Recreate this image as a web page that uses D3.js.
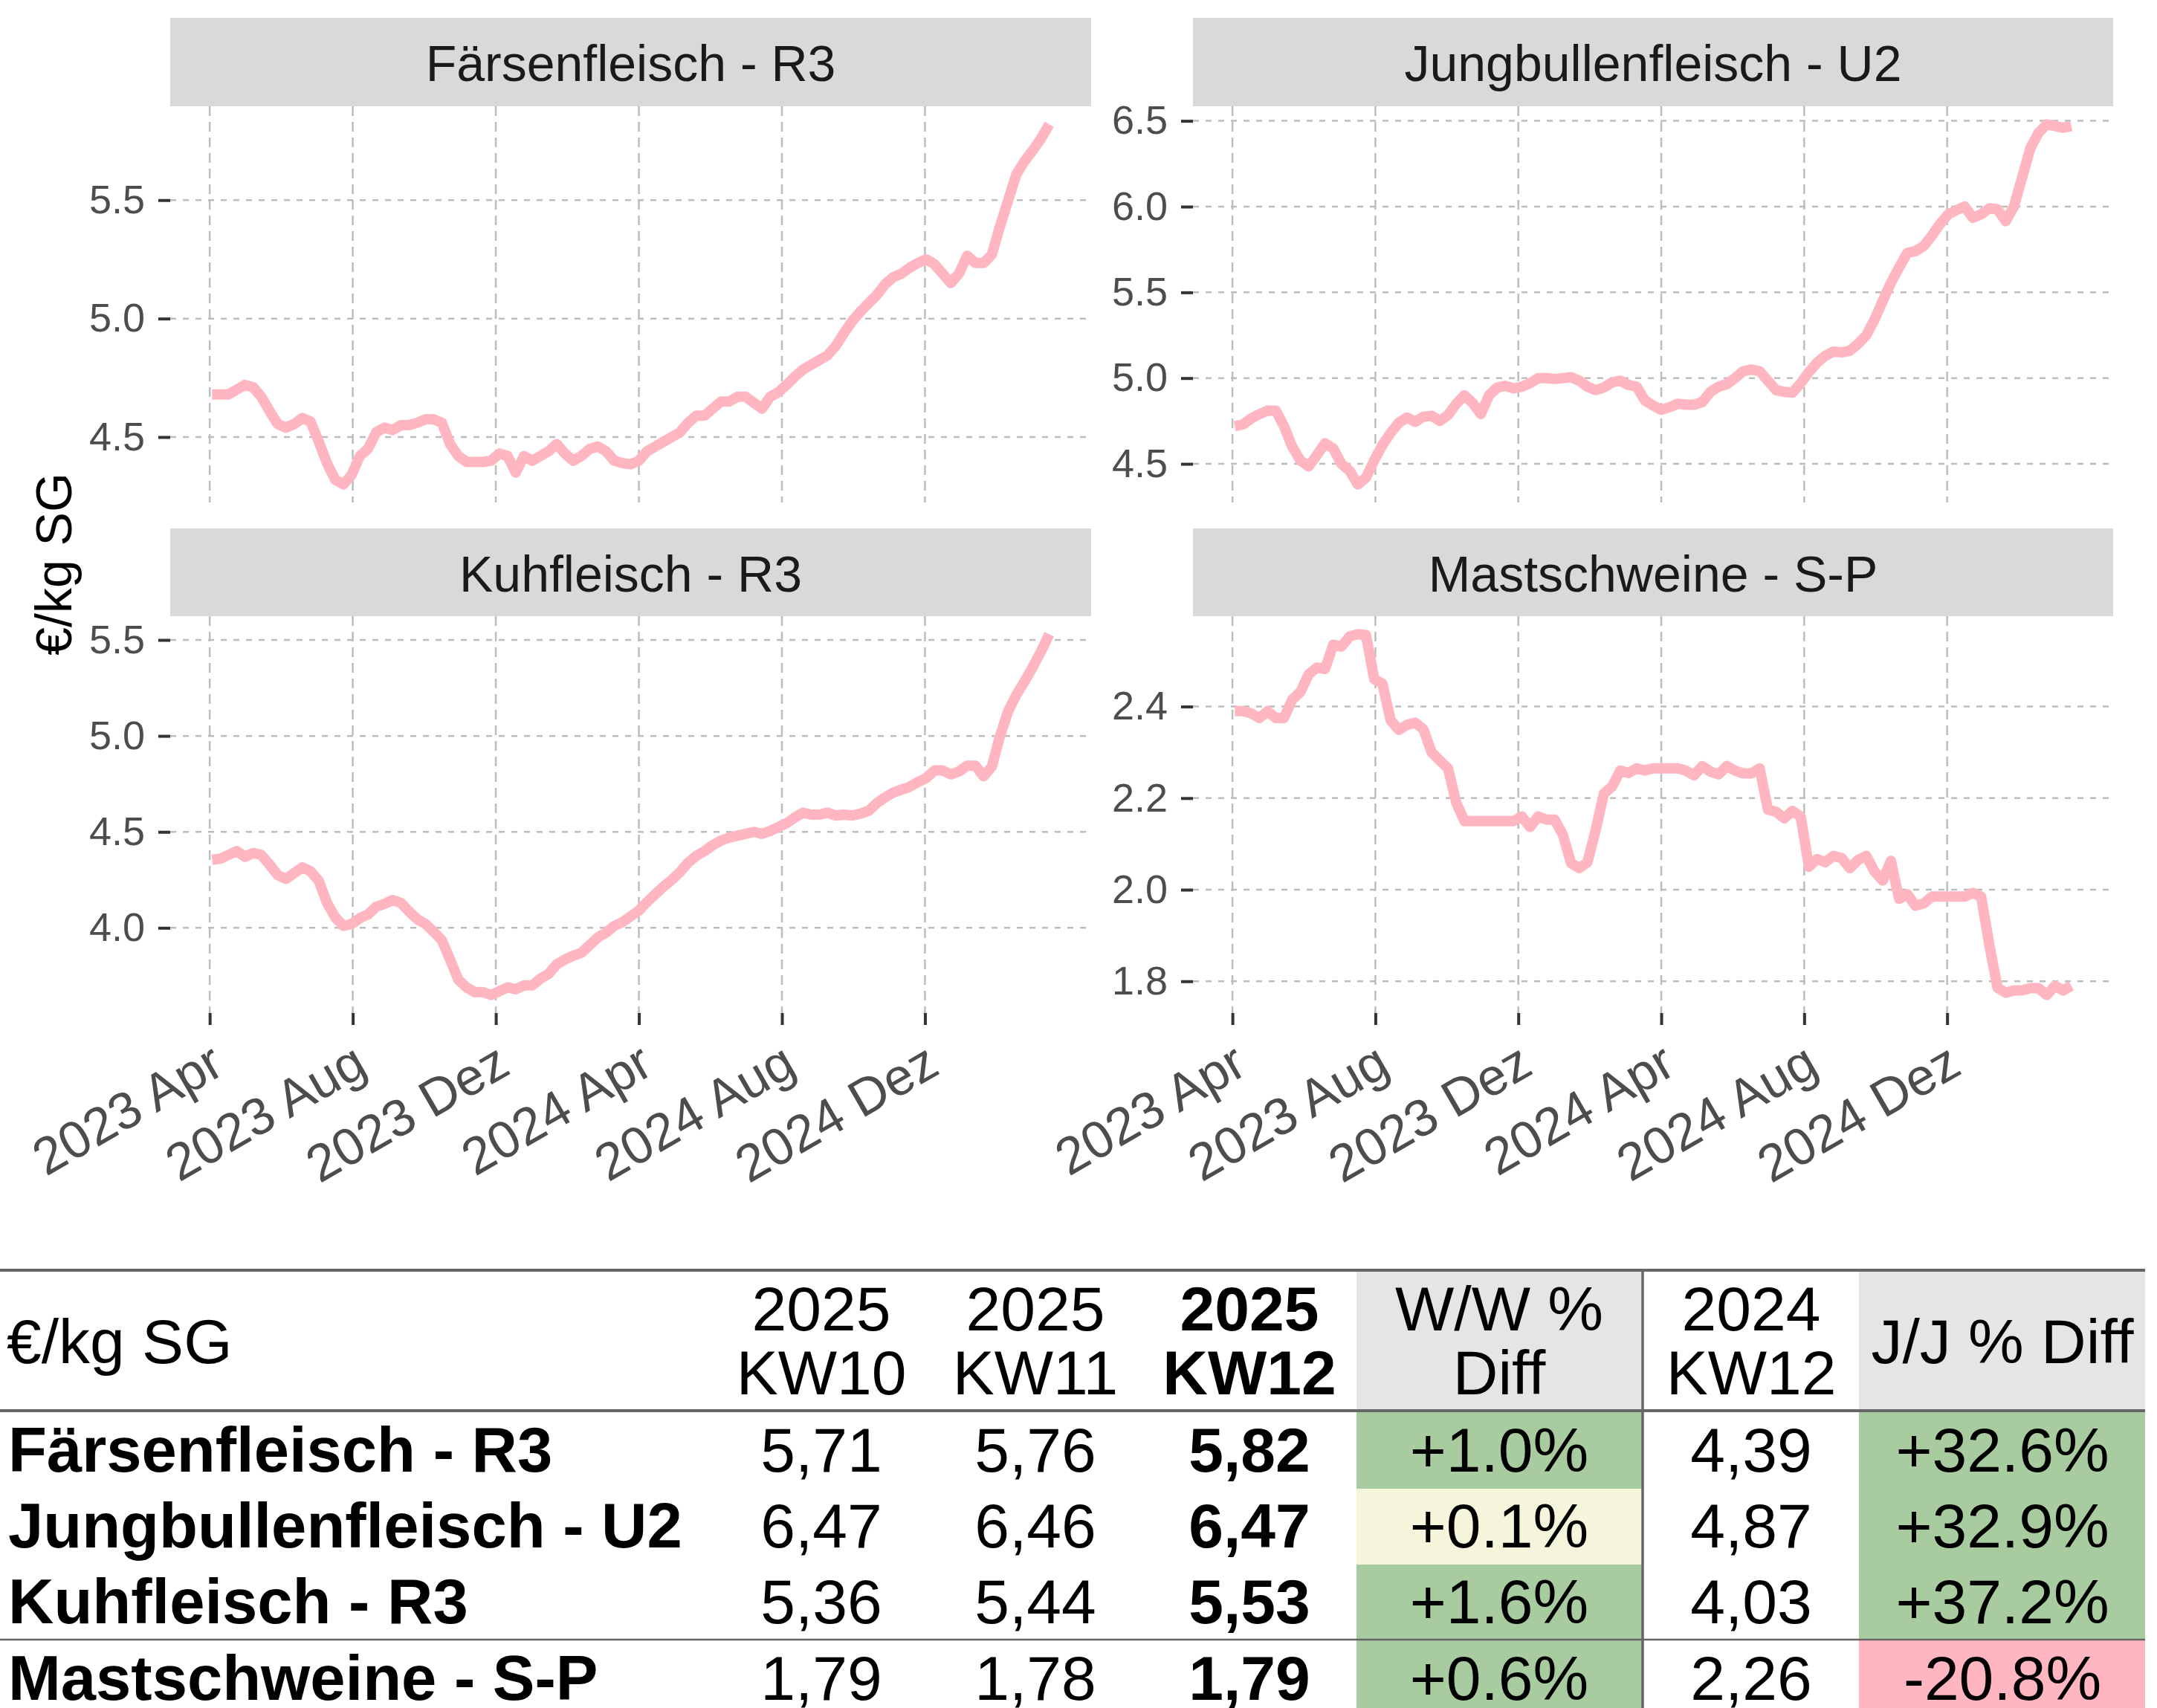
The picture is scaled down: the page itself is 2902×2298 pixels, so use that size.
<!DOCTYPE html>
<html><head><meta charset="utf-8">
<script src="https://cdn.jsdelivr.net/npm/d3@7"></script>
<style>
html,body{margin:0;padding:0;background:#fff;}
svg{display:block;font-family:"Liberation Sans",Arial,Helvetica,sans-serif;}
</style>
</head><body>
<svg id="chart" width="2902" height="2298"></svg>
<script>
// ---------------- data ----------------
const categories = ["Färsenfleisch - R3", "Jungbullenfleisch - U2", "Kuhfleisch - R3", "Mastschweine - S-P"];
const firstWeek = "2023-04-03"; // KW14 2023, weekly observations up to KW12 2025

const faersen = [4.68,4.68,4.68,4.70,4.72,4.71,4.67,4.61,4.555,4.54,
  4.555,4.58,4.565,4.48,4.39,4.32,4.30,4.34,4.42,4.45,
  4.52,4.54,4.53,4.55,4.55,4.56,4.575,4.575,4.56,4.47,
  4.42,4.395,4.395,4.395,4.40,4.43,4.42,4.35,4.42,4.40,
  4.42,4.44,4.47,4.43,4.40,4.42,4.45,4.46,4.44,4.40,
  4.39,4.385,4.40,4.44,4.46,4.48,4.50,4.52,4.56,4.59,
  4.59,4.62,4.65,4.65,4.67,4.67,4.645,4.62,4.67,4.69,
  4.72,4.755,4.785,4.805,4.825,4.845,4.885,4.94,4.99,5.03,
  5.065,5.10,5.145,5.175,5.19,5.215,5.235,5.25,5.23,5.19,
  5.15,5.19,5.265,5.235,5.235,5.27,5.39,5.50,5.61,5.665,
  5.71,5.76,5.82];

const jungbullen = [4.72,4.73,4.765,4.79,4.81,4.81,4.72,4.60,4.52,4.485,
  4.55,4.62,4.59,4.50,4.46,4.38,4.42,4.52,4.61,4.68,
  4.74,4.77,4.745,4.775,4.78,4.75,4.785,4.85,4.90,4.855,
  4.79,4.90,4.945,4.955,4.94,4.95,4.97,5.0,5.0,4.995,
  5.0,5.005,4.985,4.95,4.93,4.945,4.975,4.985,4.96,4.95,
  4.87,4.84,4.815,4.83,4.85,4.845,4.845,4.86,4.92,4.95,
  4.965,5.0,5.04,5.05,5.04,4.985,4.93,4.92,4.915,4.97,
  5.035,5.09,5.13,5.155,5.15,5.16,5.20,5.25,5.34,5.45,
  5.555,5.645,5.73,5.74,5.77,5.83,5.90,5.955,5.98,6.0,
  5.935,5.955,5.99,5.985,5.915,6.0,6.17,6.34,6.43,6.48,
  6.47,6.46,6.47];

const kuh = [4.355,4.36,4.38,4.40,4.37,4.39,4.38,4.33,4.275,4.255,
  4.285,4.315,4.295,4.245,4.13,4.055,4.01,4.02,4.05,4.07,
  4.11,4.125,4.145,4.13,4.085,4.045,4.02,3.98,3.935,3.835,
  3.73,3.69,3.665,3.665,3.65,3.67,3.69,3.68,3.70,3.70,
  3.735,3.76,3.81,3.835,3.855,3.87,3.91,3.95,3.975,4.01,
  4.03,4.06,4.09,4.135,4.175,4.215,4.25,4.29,4.34,4.375,
  4.40,4.43,4.455,4.47,4.48,4.49,4.50,4.49,4.505,4.525,
  4.545,4.575,4.60,4.59,4.59,4.60,4.585,4.59,4.585,4.595,
  4.61,4.65,4.68,4.705,4.72,4.735,4.76,4.78,4.82,4.82,
  4.80,4.815,4.845,4.845,4.79,4.84,5.0,5.13,5.215,5.285,
  5.36,5.44,5.53];

const mast = [2.39,2.39,2.385,2.375,2.39,2.375,2.375,2.415,2.432,2.47,
  2.485,2.482,2.535,2.531,2.553,2.558,2.556,2.46,2.45,2.37,
  2.349,2.36,2.365,2.35,2.30,2.282,2.265,2.19,2.15,2.15,
  2.15,2.15,2.15,2.15,2.15,2.16,2.137,2.16,2.153,2.153,
  2.12,2.058,2.047,2.06,2.13,2.21,2.225,2.26,2.255,2.265,
  2.26,2.265,2.265,2.265,2.265,2.26,2.25,2.27,2.258,2.252,
  2.27,2.26,2.254,2.254,2.265,2.175,2.17,2.156,2.172,2.16,
  2.05,2.067,2.06,2.074,2.069,2.047,2.065,2.074,2.04,2.02,
  2.063,1.98,1.99,1.965,1.97,1.985,1.985,1.985,1.985,1.985,
  1.993,1.985,1.88,1.786,1.775,1.78,1.78,1.785,1.785,1.77,
  1.79,1.78,1.79];

const seriesValues = [faersen, jungbullen, kuh, mast];

const xTickDates = ["2023-04-01","2023-08-01","2023-12-01","2024-04-01","2024-08-01","2024-12-01"];
const xTickLabels = ["2023 Apr","2023 Aug","2023 Dez","2024 Apr","2024 Aug","2024 Dez"];
const yTickValues = [[4.5,5.0,5.5],[4.5,5.0,5.5,6.0,6.5],[4.0,4.5,5.0,5.5],[1.8,2.0,2.2,2.4]];
const yAxisTitle = "€/kg SG";

// table
const tableUnit = "€/kg SG";
const colHeaders = [["2025","KW10"],["2025","KW11"],["2025","KW12"],["W/W %","Diff"],["2024","KW12"],["J/J % Diff"]];
const kw10 = ["5,71","6,47","5,36","1,79"];
const kw11 = ["5,76","6,46","5,44","1,78"];
const kw12 = ["5,82","6,47","5,53","1,79"];
const wwDiff = ["+1.0%","+0.1%","+1.6%","+0.6%"];
const kw12Prev = ["4,39","4,87","4,03","2,26"];
const jjDiff = ["+32.6%","+32.9%","+37.2%","-20.8%"];

// ---------------- layout ----------------
const svg = d3.select("#chart");
svg.append("rect").attr("width",2902).attr("height",2298).attr("fill","#fff");

const panels = [
  {x0:229, x1:1468, y0:143, y1:676, s0:24, xaxis:false},
  {x0:1605, x1:2843, y0:143, y1:676, s0:24, xaxis:false},
  {x0:229, x1:1468, y0:829, y1:1363, s0:711, xaxis:true},
  {x0:1605, x1:2843, y0:829, y1:1363, s0:711, xaxis:true}
];

const parse = d3.utcParse("%Y-%m-%d");
const start = parse(firstWeek);
const nWeeks = faersen.length;
const dates = d3.range(nWeeks).map(i => d3.utcDay.offset(start, 7*i));
const tStart = dates[0].getTime(), tEnd = dates[nWeeks-1].getTime();
const tSpan = tEnd - tStart;
const xDomain = [new Date(tStart - 0.05*tSpan), new Date(tEnd + 0.05*tSpan)];
const tickDates = xTickDates.map(parse);
const fmt = d3.format(".1f");

panels.forEach((p, k) => {
  const vals = seriesValues[k];
  const data = vals.map((v,i) => ({date: dates[i], v}));
  const x = d3.scaleUtc().domain(xDomain).range([p.x0, p.x1]);
  const [mn, mx] = d3.extent(vals);
  const r = mx - mn;
  const y = d3.scaleLinear().domain([mn - 0.05*r, mx + 0.05*r]).range([p.y1, p.y0]);
  const g = svg.append("g");

  // strip
  g.append("rect").attr("x",p.x0).attr("y",p.s0).attr("width",p.x1-p.x0).attr("height",p.y0-p.s0).attr("fill","#d9d9d9");
  g.append("text").attr("x",(p.x0+p.x1)/2).attr("y",(p.s0+p.y0)/2).attr("dy","0.38em")
    .attr("text-anchor","middle").attr("font-size",68).attr("fill","#1a1a1a").text(categories[k]);

  // grid
  g.selectAll(".vg").data(tickDates).enter().append("line")
    .attr("x1",d=>x(d)).attr("x2",d=>x(d)).attr("y1",p.y0).attr("y2",p.y1)
    .attr("stroke","#bdbdbd").attr("stroke-width",2.5).attr("stroke-dasharray","13,8");
  g.selectAll(".hg").data(yTickValues[k]).enter().append("line")
    .attr("x1",p.x0).attr("x2",p.x1).attr("y1",d=>y(d)).attr("y2",d=>y(d))
    .attr("stroke","#bdbdbd").attr("stroke-width",2.5).attr("stroke-dasharray","8,9");

  // y axis
  const ya = g.append("g").attr("transform",`translate(${p.x0},0)`)
    .call(d3.axisLeft(y).tickValues(yTickValues[k]).tickFormat(fmt).tickSize(16).tickPadding(18));
  ya.select(".domain").remove();
  ya.selectAll(".tick line").attr("stroke","#333333").attr("stroke-width",4);
  ya.selectAll(".tick text").attr("font-size",54).attr("fill","#4d4d4d").attr("font-family","Liberation Sans, Arial, sans-serif");

  // x axis
  if (p.xaxis) {
    const xa = g.append("g").attr("transform",`translate(0,${p.y1})`)
      .call(d3.axisBottom(x).tickValues(tickDates).tickFormat((d,i)=>xTickLabels[i]).tickSize(16));
    xa.select(".domain").remove();
    xa.selectAll(".tick line").attr("stroke","#333333").attr("stroke-width",4);
    xa.selectAll(".tick text").attr("font-size",70).attr("fill","#4d4d4d")
      .attr("font-family","Liberation Sans, Arial, sans-serif")
      .attr("text-anchor","end").attr("dy",null).attr("y",null)
      .attr("transform","translate(22,80) rotate(-30)");
  }

  // line
  g.append("path").datum(data)
    .attr("fill","none").attr("stroke","#ffb6c1").attr("stroke-width",14)
    .attr("stroke-linejoin","round").attr("stroke-linecap","butt")
    .attr("d", d3.line().x(d=>x(d.date)).y(d=>y(d.v)));
});

// y axis title
svg.append("text").attr("transform","translate(96,759) rotate(-90)")
  .attr("text-anchor","middle").attr("font-size",68).attr("fill","#000").text(yAxisTitle);

// ---------------- table ----------------
const T = svg.append("g");
const fs = 84;
const colCenters = [1105, 1393, 1681, 2017, 2356, 2694];
const shadeCols = [{x0:1825,x1:2209,idx:3,vals:wwDiff},{x0:2501,x1:2886,idx:5,vals:jjDiff}];
const rowTops = [1900, 2003, 2105, 2207];
const rowBottoms = [2003, 2105, 2205, 2320];
const rowBase = [1980, 2082, 2184, 2287];
const numOf = s => parseFloat(s.replace("%","").replace(",","."));
const shade = v => v > 0.5 ? "#a9cba0" : (v < -0.5 ? "#ffb6c1" : "#f5f5dc");

// header shading
shadeCols.forEach(c => {
  T.append("rect").attr("x",c.x0).attr("y",1711).attr("width",c.x1-c.x0).attr("height",1896-1711).attr("fill","#e5e5e5");
  c.vals.forEach((s,i) => {
    T.append("rect").attr("x",c.x0).attr("y",rowTops[i]).attr("width",c.x1-c.x0)
      .attr("height",rowBottoms[i]-rowTops[i]).attr("fill",shade(numOf(s)));
  });
});

// rules
T.append("line").attr("x1",0).attr("x2",2886).attr("y1",1709).attr("y2",1709).attr("stroke","#666").attr("stroke-width",4);
T.append("line").attr("x1",0).attr("x2",2886).attr("y1",1898).attr("y2",1898).attr("stroke","#666").attr("stroke-width",4);
T.append("line").attr("x1",0).attr("x2",2886).attr("y1",2206).attr("y2",2206).attr("stroke","#666").attr("stroke-width",2.5);
T.append("line").attr("x1",2210).attr("x2",2210).attr("y1",1707).attr("y2",2298).attr("stroke","#666").attr("stroke-width",3.5);

// header text
T.append("text").attr("x",9).attr("y",1834).attr("font-size",fs).attr("fill","#000").text(tableUnit);
colHeaders.forEach((h,j) => {
  const bold = j === 2;
  if (h.length === 2) {
    h.forEach((line,li) => {
      T.append("text").attr("x",colCenters[j]).attr("y", li===0 ? 1790 : 1876)
        .attr("text-anchor","middle").attr("font-size",fs).attr("font-weight",bold?"bold":"normal")
        .attr("fill","#000").text(line);
    });
  } else {
    T.append("text").attr("x",colCenters[j]).attr("y",1834)
      .attr("text-anchor","middle").attr("font-size",fs).attr("fill","#000").text(h[0]);
  }
});

// body
const cols = [kw10, kw11, kw12, wwDiff, kw12Prev, jjDiff];
categories.forEach((c,i) => {
  T.append("text").attr("x",11).attr("y",rowBase[i]).attr("font-size",85).attr("font-weight","bold").attr("fill","#000").text(c);
  cols.forEach((col,j) => {
    T.append("text").attr("x",colCenters[j]).attr("y",rowBase[i]).attr("text-anchor","middle")
      .attr("font-size",fs).attr("font-weight", j===2 ? "bold" : "normal").attr("fill","#000").text(col[i]);
  });
});
</script>
</body></html>
